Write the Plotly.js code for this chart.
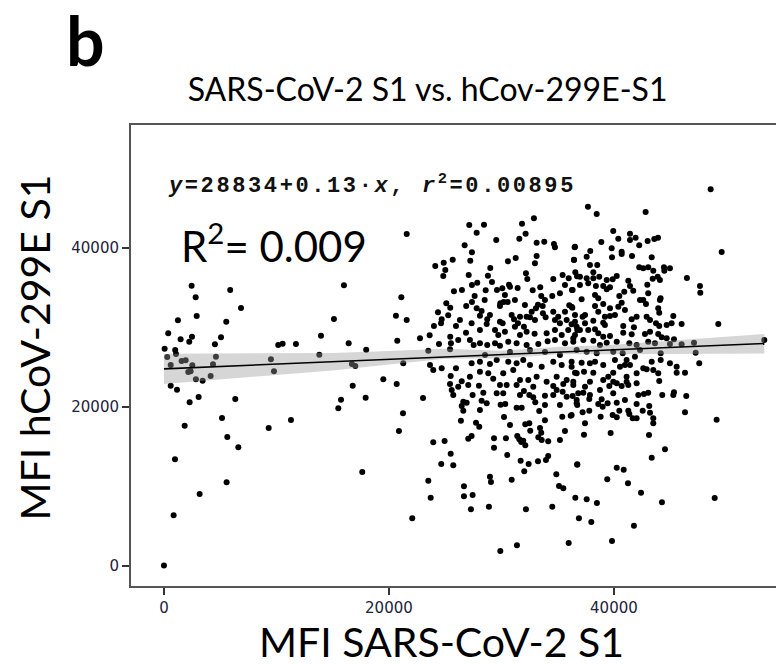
<!DOCTYPE html>
<html>
<head>
<meta charset="utf-8">
<script src="https://cdn.plot.ly/plotly-3.0.1.min.js"></script>
<style>html,body{margin:0;padding:0;background:#fff;}#chart{width:776px;height:664px;}</style>
</head>
<body>
<div id="chart"></div>
<script>
// MFI SARS-CoV-2 S1 (x) for each sample
const sarsS1 = [
2460,2820,5890,6850,1240,2910,5540,380,1480,2490,
2250,5070,4530,60,1000,290,1070,1570,1930,600,
2520,2370,2160,4620,4360,4150,2840,3440,600,1160,
3080,2280,6340,10160,10550,11730,9510,9780,13960,13810,
15110,16420,16000,16710,17010,17980,16780,15740,17930,15500,
1840,5160,5630,6610,9310,11290,980,17630,5570,3170,
860,0,32890,31830,27140,28450,27800,32150,21580,29540,
31590,33130,33810,34670,34760,36510,26730,27380,27230,25670,
24870,24120,25010,24830,30580,31270,33130,32980,36450,29010,
27090,28800,32180,32300,34610,35440,35980,36720,27850,27380,
28600,26490,25780,29600,30080,30670,30760,31440,32780,33450,
35650,36270,21100,27620,28510,27380,29900,30200,29870,30550,
33540,33250,33670,34520,35200,36030,36300,25100,25450,26870,
27800,28240,28090,24360,25270,24690,24630,24000,25960,20620,
21580,27350,28740,28690,29870,30110,30910,31120,31470,31650,
32240,32000,32540,32690,33070,33690,33930,34610,35050,35200,
35650,35800,36240,36540,28090,26850,29720,30310,31200,32240,
32950,34020,34760,35360,35940,36690,23620,22760,20740,24450,
25450,25510,26160,27530,28090,28740,29430,29870,30610,31350,
32240,33280,34110,34760,35650,36390,23500,25430,21270,23650,
23940,24690,27350,28090,28980,29580,30610,31350,31940,32540,
33580,34610,35360,36240,19500,20690,25490,25960,26470,27200,
28090,28830,29270,30160,31050,31650,32390,33130,34020,34910,
35800,36690,25430,26160,27050,30470,31350,32830,34610,35500,
23030,21250,20890,25580,25720,27440,28000,28390,28240,28690,
26610,26470,26910,26610,26400,27740,28030,29580,30160,29930,
30340,30230,31350,31800,32000,32480,32830,33010,33360,33870,
34610,34910,35440,35800,36330,36830,36690,33870,35410,36160,
35650,32120,32480,32560,23940,24950,25490,24650,25720,27050,
27350,29340,29340,30400,31410,31590,31760,31940,32120,33280,
33580,33540,34160,30520,31710,32420,33250,33960,34160,32030,
34880,36740,23500,23710,28980,29070,30910,26670,26670,27440,
27290,28890,32180,34520,35120,35500,36570,36890,22070,29900,
31380,35980,48600,37690,38470,42820,39940,40390,41430,41930,
41430,38880,42250,43000,43590,43920,36540,37900,39800,40690,
40690,49580,36450,37580,39830,41610,43360,37870,38520,42250,
42610,43050,44450,44980,43500,44480,36570,38170,36980,37580,
38170,38700,39360,39890,40250,41280,42970,43450,43890,44090,
46490,47650,47680,36330,36980,37720,38400,39050,39360,39650,
41430,41720,40920,43050,44090,44150,42610,40480,38610,37130,
36240,38320,39050,39650,40390,40690,42850,43940,44030,38610,
39650,39200,37220,36540,37430,38170,39050,41580,42020,42910,
40830,41780,43740,44030,44690,45130,45280,46020,49280,36740,
37720,38320,38610,39050,39650,40830,41580,42760,43210,43940,
44250,44690,45340,36390,37280,38170,39360,40250,41370,42020,
43050,43650,44980,46020,47120,53370,47270,47590,36690,37580,
38470,39940,40780,41130,41870,44160,44160,44980,45580,46320,
45580,36240,37130,37870,38320,39050,40540,40980,42610,43360,
43500,43940,36540,37340,38170,39500,39940,41130,42020,42910,
36390,37870,39050,39940,41130,42020,44030,36390,37430,39590,
40250,40690,41280,37280,39940,42170,42670,43050,44300,45280,
45340,46430,36690,36740,37810,38910,39000,39440,40250,38610,
42020,43140,36240,37220,37810,38820,39890,40250,40480,41280,
41370,41670,42020,42560,43210,43500,43500,46320,49130,37430,
37340,39710,43120,44540,43360,36740,40250,40870,39410,41250,
42410,37580,38490,44270,48960,37990,41780,39830,
29160,30310,31200,32090,33870,34760,31650,32980,28980,26310,
27200,28540,29430,30760,32540,33870,35200,36540,37430,38320,
39200,40090,40980,42320,43210,42320,41430,40090,38760,36980,
29870,31650,33870,35200,37870,38760,40980,28090,30760,33430,
35200
];
// MFI hCoV-299E S1 (y) for each sample, same order
const hcovS1 = [
35260,33800,34720,32460,30910,31450,30730,29270,28520,28850,
28220,28770,27890,27340,27170,26290,26670,25790,25880,25290,
25250,24490,24410,26330,25370,23900,23490,23310,22680,22180,
21260,20590,21010,27800,27970,27930,26000,24490,28970,26580,
31070,28020,35310,25410,25160,27210,22680,20920,21170,19840,
17650,18620,16230,14930,17360,18370,13420,11830,10530,9060,
6380,50,43740,43060,42900,42940,41930,41800,41770,41010,
41170,40670,40800,40510,40090,40090,40340,39460,38410,38530,
38150,37740,37240,36480,38330,38750,39000,38080,38530,37490,
36610,36520,36820,36100,36100,36610,36190,36440,35640,35350,
34680,34720,34560,34720,34930,35390,35140,34970,34680,35060,
35350,34720,33800,33970,33460,33210,33050,33210,32710,33210,
33970,32870,32710,33970,34310,32800,32490,33050,32490,32710,
32420,32080,31490,31920,31540,31040,30530,30190,30190,31490,
30950,30530,31040,30440,30730,30530,31580,31040,30530,31360,
31360,30100,31290,31990,32420,31790,31290,31990,31360,30530,
31990,30950,30410,31580,29690,29350,29060,29480,30100,29480,
29220,29270,29690,29060,29690,30100,29020,28640,28340,27930,
28850,28020,28430,27800,28020,27800,28020,27710,28220,28020,
27800,27930,28270,28430,28020,28220,27090,27260,25500,25290,
24660,24870,25500,25700,25410,25910,25700,25500,25910,25290,
25070,25700,25290,25070,23490,22900,23900,24870,23240,23810,
24440,24240,23560,24240,24660,23400,23400,23810,23190,23810,
23400,24240,22900,22560,22770,22770,22770,22560,22640,22900,
21130,19210,16980,22140,21510,21510,22680,21800,20800,20470,
20670,20130,20540,19540,18280,18030,17520,21730,21730,20290,
20380,18740,19910,19910,22010,21510,21220,20590,19500,21420,
21510,22140,21930,21300,21390,21730,20470,18330,18780,18910,
16980,17830,17950,17020,15560,15730,14130,12830,12670,16010,
16350,16060,14880,16060,16350,15940,15600,15760,15180,16190,
15850,16770,15690,13960,13250,12830,13170,13330,13840,11910,
11540,12740,10730,8590,11230,10570,10860,10030,8770,8930,
7130,7460,7130,7460,10060,9770,8590,6000,6000,1890,
2600,2890,47390,45200,44280,44530,42140,41170,41800,41300,
41010,40760,40340,40890,41140,41300,40170,39630,39970,39540,
39250,39500,38490,38910,38830,39000,38830,37870,37870,37580,
37450,37580,37580,37450,37150,37150,36950,36950,36390,36190,
36190,36390,35980,36070,36480,35890,35390,36140,36390,35980,
36230,35220,34380,34720,35350,35560,35220,35220,34810,35060,
35220,34630,34510,34310,33460,33680,33460,33970,33680,33550,
32620,32710,32960,32420,32620,33120,32960,32420,31870,31990,
31450,31360,31360,30730,30530,30860,30610,31040,31360,31360,
30190,30030,30530,30190,30320,30530,31450,30440,30440,29690,
29690,29780,29270,28850,28930,29350,29150,29190,29480,29190,
28770,28640,28520,28640,28430,28340,28090,28220,28020,27800,
28220,28020,27930,27890,28090,28430,26830,25500,27170,26960,
26760,26960,26760,25910,26330,26760,25910,25500,25070,24320,
24320,25700,25580,25500,25700,25290,25070,25290,24870,25700,
24660,24240,24320,24440,24320,23810,24320,23810,24240,24750,
23190,23190,23400,23190,23190,22980,23270,22770,22560,22640,
22980,22640,22770,21800,21730,21510,21640,21800,21510,21510,
21850,21390,20880,20250,21010,20970,20040,20470,20540,20380,
20380,20130,19000,19340,19540,18780,19000,18710,19540,19540,
19120,18580,18580,19540,19290,18580,17950,19340,18400,17950,
16520,16730,16480,14680,13620,12790,12370,12110,10910,10400,
9220,8390,7930,8010,8550,5540,5070,3150,
35730,34090,33460,32830,33460,30950,29060,30950,31580,30950,
28430,26540,29690,26920,27170,26920,26540,29060,31580,34090,
30320,31580,32200,33460,30950,27170,25290,25910,27800,29690,
22770,21510,20250,20250,21510,22140,20880,19620,17740,17360,
15850
];
// fitted line and its confidence band
const fitX = [0, 53370];
const fitY = [24800, 28000];
const bandX = [0, 5000, 10000, 15000, 20000, 25000, 30000, 35000, 40000, 45000, 53370];
const bandUpper = [26700, 26730, 26760, 26800, 27060, 27330, 27080, 27560, 27830, 28310, 29190];
const bandLower = [22900, 23470, 24040, 24600, 25350, 26060, 26120, 26630, 26640, 26690, 26740];
const xTicks = [0, 20000, 40000];
const yTicks = [0, 20000, 40000];

const traces = [
  {x: sarsS1, y: hcovS1, type: 'scatter', mode: 'markers',
   marker: {color: '#000', size: 6}, hoverinfo: 'x+y', showlegend: false},
  {x: bandX, y: bandLower, type: 'scatter', mode: 'lines',
   line: {width: 0, color: 'rgba(0,0,0,0)'}, showlegend: false, hoverinfo: 'skip'},
  {x: bandX, y: bandUpper, type: 'scatter', mode: 'lines', fill: 'tonexty',
   fillcolor: 'rgba(153,153,153,0.4)', line: {width: 0, color: 'rgba(0,0,0,0)'},
   showlegend: false, hoverinfo: 'skip'},
  {x: fitX, y: fitY, type: 'scatter', mode: 'lines',
   line: {color: '#000', width: 1.6}, showlegend: false}
];

const axisCommon = {
  showgrid: false, zeroline: false, showline: true, linecolor: '#555', linewidth: 2,
  ticks: 'outside', ticklen: 7, tickwidth: 2, tickcolor: '#333',
  tickfont: {family: 'DejaVu Sans, sans-serif', size: 15, color: '#22223a'},
  automargin: false
};

const layout = {
  width: 776, height: 664,
  margin: {l: 131, r: 0, t: 125, b: 78},
  paper_bgcolor: '#fff', plot_bgcolor: '#fff',
  title: {text: 'SARS-CoV-2 S1 vs. hCov-299E-S1', font: {family: 'Lato, sans-serif', size: 32, color: '#000'},
          x: 0.551, xanchor: 'center', y: 0.865, yanchor: 'middle'},
  xaxis: Object.assign({}, axisCommon, {
    range: [-2930, 54410], tickvals: xTicks, ticktext: xTicks.map(String), mirror: true
  }),
  yaxis: Object.assign({}, axisCommon, {
    range: [-2520, 55480], tickvals: yTicks, ticktext: yTicks.map(String), mirror: false
  }),
  annotations: [
    {xref: 'paper', yref: 'paper', x: -0.07, y: 1.186, xanchor: 'center', yanchor: 'middle', height: 62,
     text: '<b>b</b>', showarrow: false, font: {family: 'Lato, sans-serif', size: 68, color: '#000'}},
    {xref: 'paper', yref: 'paper', x: 0.482, y: -0.119, xanchor: 'center', yanchor: 'middle', height: 44,
     text: 'MFI SARS-CoV-2 S1', showarrow: false, font: {family: 'Lato, sans-serif', size: 41, color: '#000'}},
    {xref: 'paper', yref: 'paper', x: -0.149, y: 0.517, xanchor: 'center', yanchor: 'middle', textangle: -90,
     text: 'MFI hCoV-299E S1', showarrow: false, font: {family: 'Lato, sans-serif', size: 41, color: '#000'}},
    {xref: 'paper', yref: 'paper', x: 0.054, y: 0.87, xanchor: 'left', yanchor: 'middle',
     text: '<span style="letter-spacing:2.6px"><b><i>y</i>=28834+0.13·<i>x</i>, <i>r</i><sup>2</sup>=0.00895</b></span>', showarrow: false,
     font: {family: 'Liberation Mono, monospace', size: 22, color: '#111'}},
    {xref: 'paper', yref: 'paper', x: 0.222, y: 0.745, xanchor: 'center', yanchor: 'middle',
     text: 'R<sup>2</sup>= 0.009', showarrow: false, bgcolor: '#fff', borderpad: 6,
     font: {family: 'Lato, sans-serif', size: 42, color: '#000'}}
  ]
};

Plotly.newPlot('chart', traces, layout, {displayModeBar: false, staticPlot: true});
</script>
</body>
</html>
